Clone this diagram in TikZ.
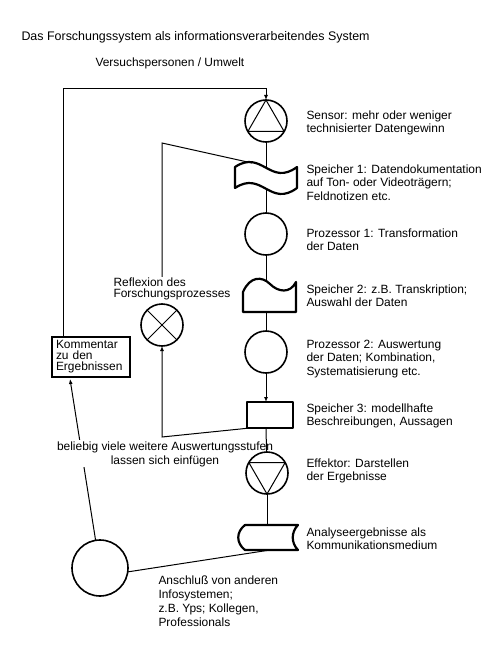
\documentclass[tikz,border=0pt]{standalone}
\usepackage{fontspec}
\setmainfont{Liberation Sans}
\usetikzlibrary{arrows.meta}

\tikzset{
	proc/.style={draw, circle, line width=1.6bp, minimum size=42bp, inner sep=0pt, outer sep=0pt},
	speicher/.style={line width=2.2bp, line join=round},
	txt/.style={anchor=base west, align=left, inner sep=0pt},
	tight/.style={font=\fontsize{12}{11}\selectfont},
}

\begin{document}
\begin{tikzpicture}[x=1bp, y=-1bp, line width=1bp, >={Latex[length=5bp,width=4bp]}, font=\fontsize{12}{13.5}\selectfont]
	\useasboundingbox (0,0) rectangle (497,651);

	\node (title) [txt, font=\fontsize{12.5}{14}\selectfont] at (21,41) {Das Forschungssystem als informationsverarbeitendes System};
	\node (umwelt) [txt] at (95,67) {Versuchspersonen / Umwelt};

	% Sensor
	\node (sensor) [proc] at (266,121) {};
	\draw (sensor.90) -- (sensor.210) -- (sensor.330) -- cycle;

	% Speicher 1
	\draw [speicher] (235,167) .. controls (262,149) and (270,187) .. (297,167) -- (297,188) .. controls (270,208) and (262,170) .. (235,188) -- cycle;
	\coordinate (S1top) at (266,168);
	\coordinate (S1bot) at (266,189);
	\coordinate (S1crest) at (252,163);

	\node (proz1) [proc] at (266,234) {};

	% Speicher 2
	\draw [speicher] (243,292) .. controls (250,276) and (262,276) .. (270,284) .. controls (278,292) and (290,294) .. (296,282) -- (296,312) -- (243,312) -- cycle;
	\coordinate (S2top) at (266,281);
	\coordinate (S2bot) at (266,312);

	\node (proz2) [proc] at (266,352) {};

	% Speicher 3
	\draw [speicher] (247,402) rectangle (293,428);
	\coordinate (S3top) at (266,402);
	\coordinate (S3bot) at (266,428);
	\coordinate (S3left) at (250,428);

	% Kommentar
	\node (komm) [draw, line width=2bp, align=left, text width=70bp, inner xsep=4bp, inner ysep=0pt, minimum height=40bp, tight] at (91,357) {Kommentar\\zu den\\Ergebnissen};
	\coordinate (Kleft) at (63,89);
	\draw [->] (Kleft |- komm.north) -- (Kleft) -| (sensor);

	% Reflexion
	\node (refltxt) [txt, tight] at (113,297) {Reflexion des\\Forschungsprozesses};
	\node (reflex) [proc] at (162,325) {};
	\draw (reflex.45) -- (reflex.225) (reflex.135) -- (reflex.315);
	\coordinate (Rtop) at (162,143);
	\coordinate (Rbot) at (162,437);
	\draw (Rtop |- refltxt.north) -- (Rtop) -- (S1crest);
	\draw [->] (S3left) -- (Rbot) -- (reflex);

	% Anschluss
	\node (anschl) [proc, minimum size=56bp] at (100,568) {};
	\coordinate (Kin) at (70,379);
	\draw [->] (anschl) -- (Kin);
	\node (Tstufen) [anchor=base, align=center, fill=white, inner sep=1bp, font=\fontsize{12}{14}\selectfont] at (165,464) {beliebig viele weitere Auswertungsstufen\\lassen sich einfügen};

	% Effektor
	\node (eff) [proc] at (267,473) {};
	\draw (eff.30) -- (eff.150) -- (eff.270) -- cycle;

	% Analyseergebnisse
	\draw [speicher] (245,525) -- (298,525) .. controls (291,532) and (291,543) .. (298,550) -- (245,550) .. controls (236,543) and (236,532) .. (245,525) -- cycle;
	\coordinate (Atop) at (267,525);
	\coordinate (Abot) at (270,550);

	\draw (sensor) -- (S1top);
	\draw (S1bot) -- (proz1);
	\draw (proz1) -- (S2top);
	\draw (S2bot) -- (proz2);
	\draw [->] (proz2) -- (S3top);
	\draw (S3bot) -- (eff);
	\draw (eff) -- (Atop);
	\draw (anschl.-8) -- (Abot);

	\node (Tsensor) [txt] at (306,132.5) {Sensor: mehr oder weniger\\technisierter Datengewinn};
	\node (Tsp1) [txt] at (306,200) {Speicher 1: Datendokumentation\\auf Ton- oder Videoträgern;\\Feldnotizen etc.};
	\node (Tproz1) [txt] at (306,250.5) {Prozessor 1: Transformation\\der Daten};
	\node (Tsp2) [txt] at (306,306.5) {Speicher 2: z.B. Transkription;\\Auswahl der Daten};
	\node (Tproz2) [txt] at (306,375) {Prozessor 2: Auswertung\\der Daten; Kombination,\\Systematisierung etc.};
	\node (Tsp3) [txt] at (306,425.5) {Speicher 3: modellhafte\\Beschreibungen, Aussagen};
	\node (Teff) [txt] at (306,480.5) {Effektor: Darstellen\\der Ergebnisse};
	\node (Tana) [txt] at (306,549.5) {Analyseergebnisse als\\Kommunikationsmedium};
	\node (Tanschl) [txt, font=\fontsize{12}{14}\selectfont] at (158,626) {Anschluß von anderen\\Infosystemen;\\z.B. Yps; Kollegen,\\Professionals};
\end{tikzpicture}
\end{document}
